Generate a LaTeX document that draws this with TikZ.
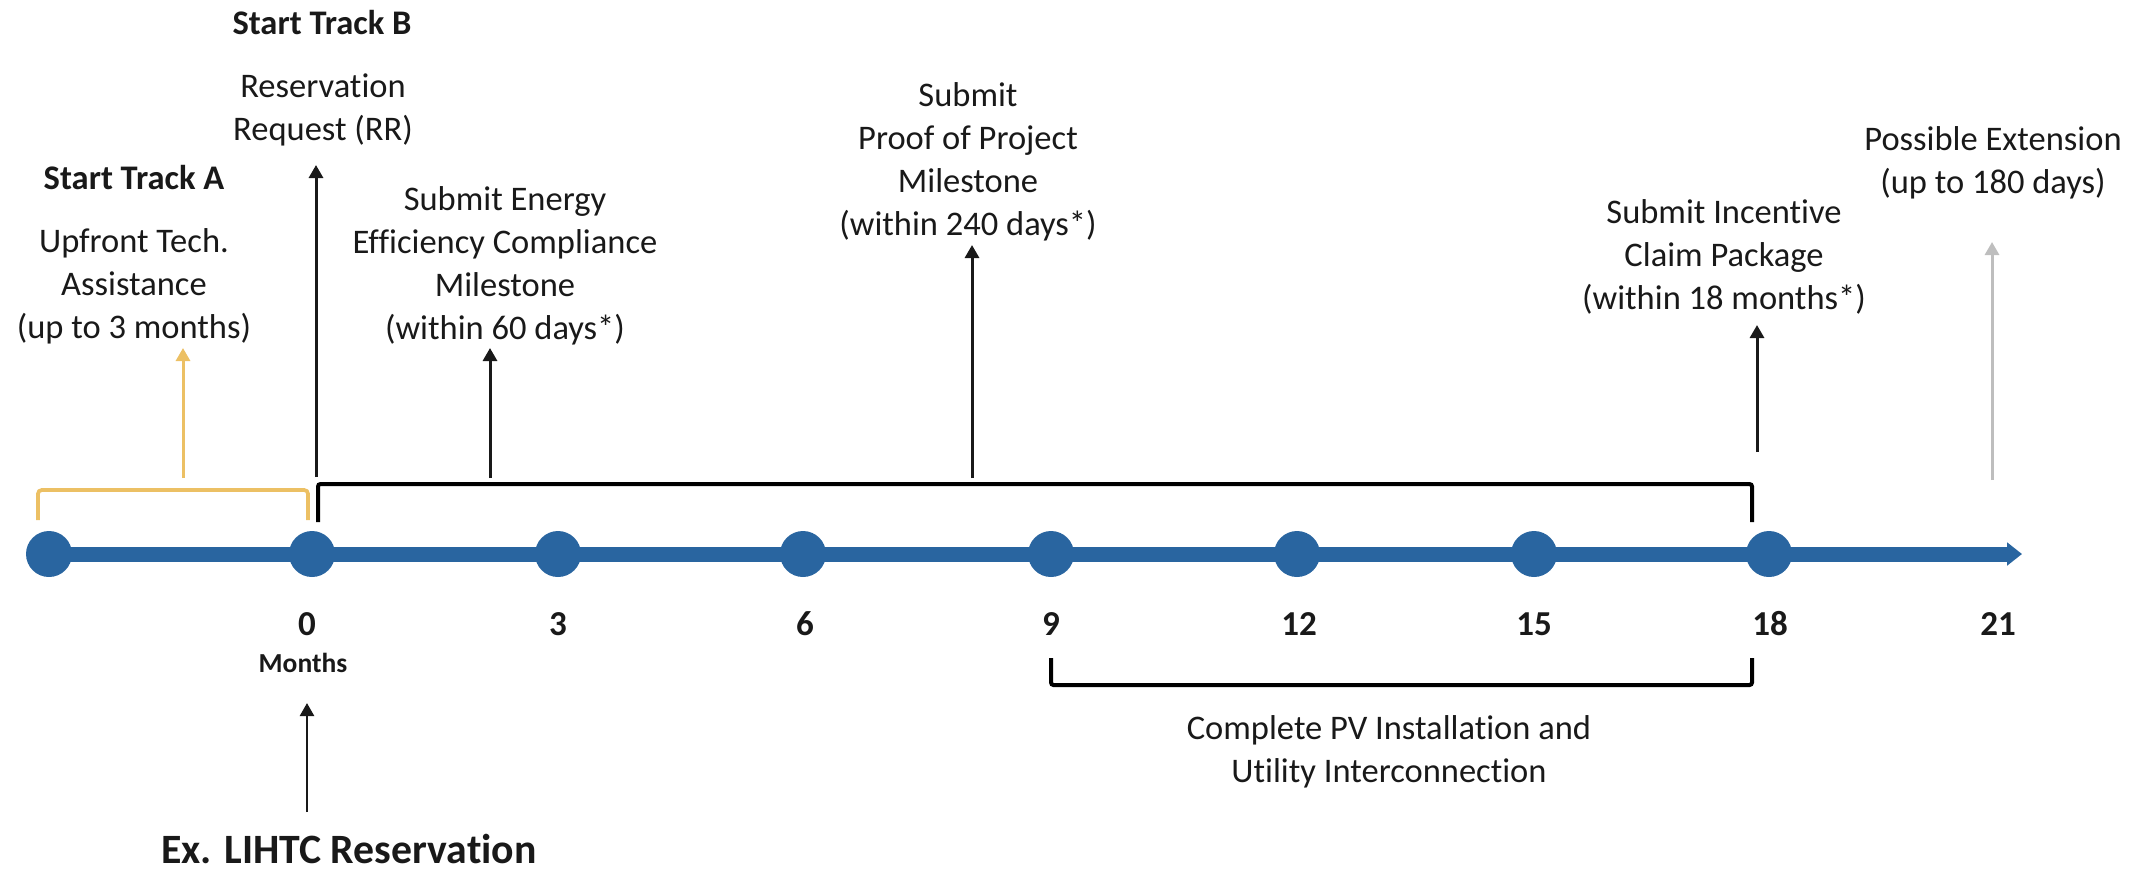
\documentclass[tikz,border=0pt]{standalone}
\usepackage{fontspec}
\setmainfont{Carlito}[Ligatures=CommonOff]
\usetikzlibrary{arrows.meta}
\definecolor{tlblue}{RGB}{41,101,160}
\definecolor{ylw}{RGB}{236,192,100}
\definecolor{gry}{RGB}{190,190,190}
\definecolor{txt}{RGB}{25,25,25}
\begin{document}
\begin{tikzpicture}[x=0.4pt,y=-0.4pt,
  lbl/.style={align=center,inner sep=0pt,text=txt,font=\fontsize{13.8}{17.2}\selectfont},
  blbl/.style={align=center,inner sep=0pt,text=txt,font=\fontsize{13.8}{17.2}\selectfont\bfseries},
  num/.style={inner sep=0pt,text=txt,font=\fontsize{14}{17}\selectfont\bfseries},
  dot/.style={circle,fill=tlblue,minimum size=18.4pt,inner sep=0pt},
  up/.style={line width=1.2pt,-{Triangle[length=5.2pt,width=5.6pt]}},
  brk/.style={line width=1.6pt},
]
\useasboundingbox (0,0) rectangle (2151,875);

% brackets
\draw[ylw,line width=1.5pt,rounded corners=1.5pt] (38,520) -- (38,490) -- (308,490) -- (308,520);
\draw[brk,black,rounded corners=1pt] (318,522) -- (318,484) -- (1752,484) -- (1752,522);
\draw[brk,black,rounded corners=1pt] (1051,658) -- (1051,685) -- (1752,685) -- (1752,658);

% arrow end points
\coordinate (aA0) at (183,478);   \coordinate (aA1) at (183,348);
\coordinate (aB0) at (316,477);   \coordinate (aB1) at (316,165);
\coordinate (aE0) at (490,478);   \coordinate (aE1) at (490,348);
\coordinate (aP0) at (972,478);   \coordinate (aP1) at (972,245);
\coordinate (aI0) at (1757,452);  \coordinate (aI1) at (1757,325);
\coordinate (aX0) at (1992,480);  \coordinate (aX1) at (1992,242);
\coordinate (aL0) at (307,812);   \coordinate (aL1) at (307,703);

\draw[up,ylw] (aA0) -- (aA1);
\draw[up,txt] (aB0) -- (aB1);
\draw[up,txt] (aE0) -- (aE1);
\draw[up,txt] (aP0) -- (aP1);
\draw[up,txt] (aI0) -- (aI1);
\draw[up,gry] (aX0) -- (aX1);
\draw[up,txt,line width=1pt] (aL0) -- (aL1);

% timeline
\coordinate (tl0) at (30,554);
\coordinate (tl1) at (2022,554);
\draw[tlblue,line width=6pt,-{Triangle[length=6pt,width=9pt]}] (tl0) -- (tl1);
\node[dot] (dm) at (49,554) {};
\node[dot] (d0) at (312,554) {};
\node[dot] (d3) at (558,554) {};
\node[dot] (d6) at (803,554) {};
\node[dot] (d9) at (1051,554) {};
\node[dot] (d12) at (1297,554) {};
\node[dot] (d15) at (1534,554) {};
\node[dot] (d18) at (1769,554) {};

% month numbers
\node[num] (n0) at (307,624) {0};
\node[num] (n3) at (558,624) {3};
\node[num] (n6) at (805,624) {6};
\node[num] (n9) at (1051,624) {9};
\node[num] (n12) at (1299,624) {12};
\node[num] (n15) at (1534,624) {15};
\node[num] (n18) at (1770,624) {18};
\node[num] (n21) at (1998,624) {21};
\node[inner sep=0pt,text=txt,font=\fontsize{11}{13}\selectfont\bfseries] (months) at (303,663) {Months};

% labels
\node[blbl] (trackB) at (322,23) {Start Track B};
\node[lbl] (rr) at (323,110) {Reservation\\Request (RR)};
\node[blbl] (trackA) at (134,178) {Start Track A};
\node[lbl] (upfront) at (134,286) {Upfront Tech.\\Assistance\\(up to 3 months)};
\node[lbl] (energy) at (505,266) {Submit Energy\\Efficiency Compliance\\Milestone\\(within 60 days*)};
\node[lbl] (proof) at (968,162) {Submit\\Proof of Project\\Milestone\\(within 240 days*)};
\node[lbl] (incent) at (1724,257) {Submit Incentive\\Claim Package\\(within 18 months*)};
\node[lbl] (ext) at (1993,163) {Possible Extension\\(up to 180 days)};
\node[lbl] (pv) at (1389,752) {Complete PV Installation and\\Utility Interconnection};
\node[inner sep=0pt,text=txt,font=\fontsize{16.7}{20}\selectfont\bfseries] (lihtc) at (349,849) {Ex. LIHTC Reservation};
\end{tikzpicture}
\end{document}
